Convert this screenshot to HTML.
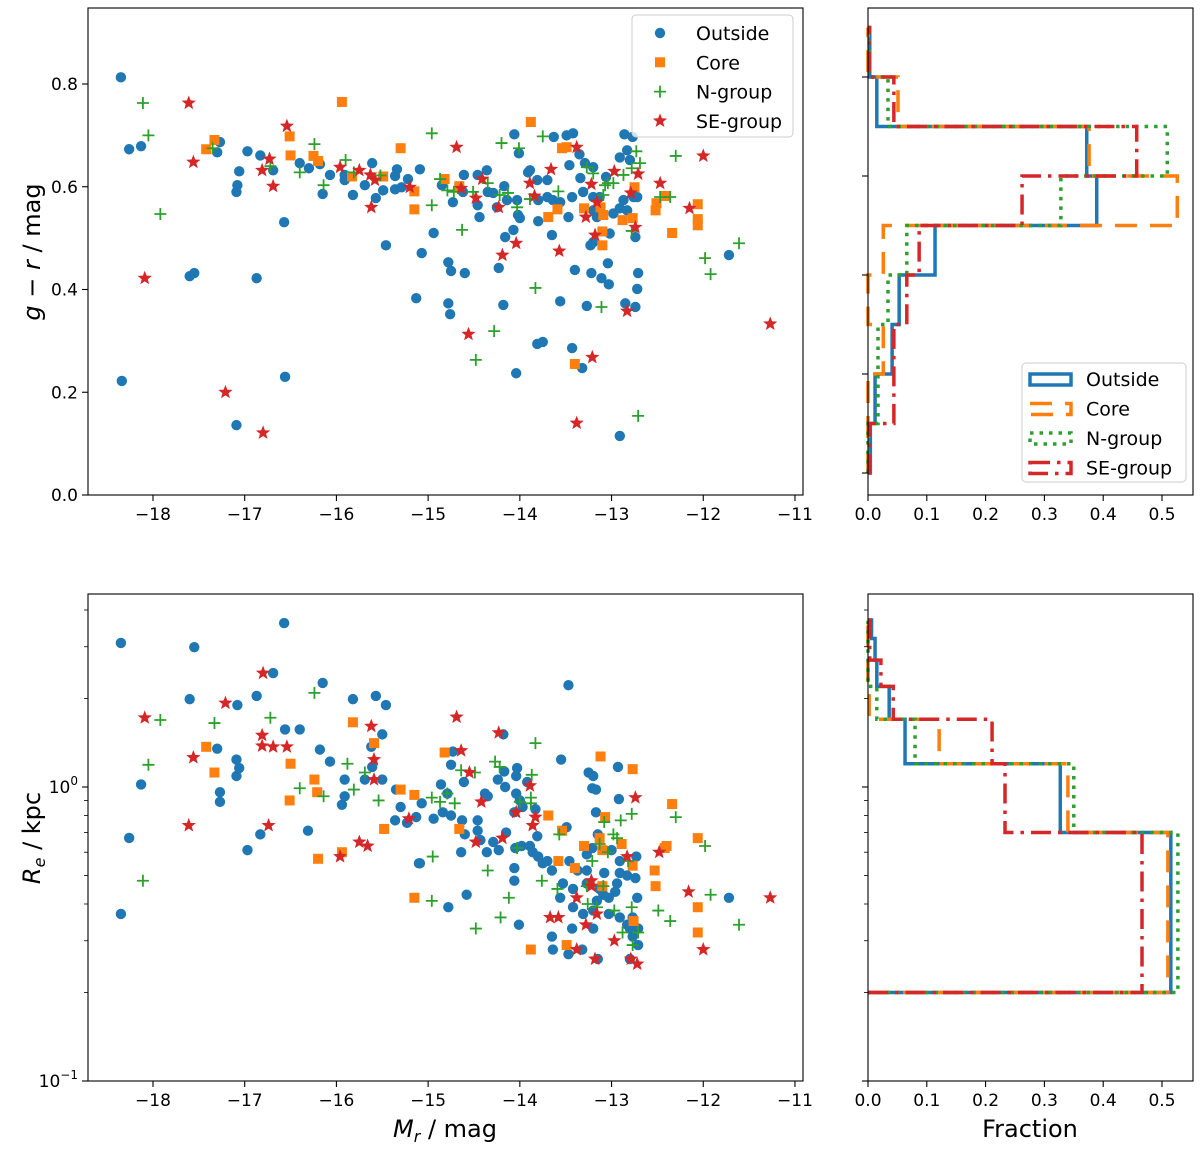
<!DOCTYPE html>
<html><head><meta charset="utf-8"><style>
body{margin:0;background:#fff}
svg text{font-family:"DejaVu Sans","Liberation Sans",sans-serif;fill:#000}
</style></head><body>
<svg id="fig" xmlns="http://www.w3.org/2000/svg" width="1200" height="1147" viewBox="0 0 1200 1147">
<rect width="1200" height="1147" fill="#fff"/>
<g id="marks"></g>
<g id="axes"></g>
</svg>
<script>
// ---------- data: top panel (M_r, g-r) ----------
const outsideTop=[[-18.35,0.813],[-18.26,0.673],[-18.13,0.679],[-17.27,0.687],[-17.30,0.667],[-16.97,0.669],[-16.83,0.661],[-16.69,0.632],[-17.06,0.630],[-17.08,0.603],[-17.09,0.590],[-16.40,0.646],[-16.30,0.636],[-16.18,0.644],[-16.07,0.623],[-16.15,0.586],[-15.91,0.623],[-15.91,0.613],[-15.82,0.584],[-15.69,0.603],[-15.61,0.646],[-15.57,0.578],[-15.49,0.593],[-15.36,0.595],[-15.29,0.599],[-15.34,0.634],[-15.36,0.621],[-15.22,0.615],[-16.57,0.531],[-15.46,0.486],[-17.60,0.426],[-17.55,0.432],[-16.87,0.422],[-15.13,0.383],[-18.34,0.222],[-16.56,0.230],[-17.09,0.136],
[-14.06,0.702],[-13.63,0.697],[-13.49,0.700],[-13.42,0.704],[-14.01,0.665],[-12.86,0.702],[-12.77,0.697],[-15.09,0.634],[-14.61,0.623],[-14.46,0.623],[-14.36,0.632],[-14.85,0.603],[-14.62,0.590],[-14.73,0.570],[-14.46,0.564],[-14.35,0.590],[-14.29,0.588],[-14.17,0.601],[-14.25,0.560],[-14.14,0.574],[-14.03,0.574],[-14.02,0.545],[-14.00,0.539],[-13.91,0.628],[-13.89,0.632],[-13.81,0.613],[-13.80,0.574],[-13.80,0.533],[-13.70,0.613],[-13.70,0.580],[-13.64,0.574],[-13.56,0.570],[-13.43,0.580],[-13.46,0.642],[-13.35,0.663],[-13.29,0.646],[-13.20,0.638],[-13.34,0.617],[-13.31,0.590],[-13.20,0.580],[-13.47,0.541],[-13.20,0.554],[-13.16,0.541],[-13.13,0.580],[-13.06,0.619],[-12.98,0.548],[-12.91,0.558],[-12.83,0.554],[-12.87,0.574],[-12.76,0.580],[-12.72,0.580],[-12.91,0.657],[-12.83,0.671],[-12.80,0.652],[-12.74,0.502],[-13.02,0.509],[-13.65,0.506],[-13.23,0.486],[-13.20,0.492],[-14.07,0.516],[-14.16,0.502],[-13.04,0.451],[-12.71,0.432],[-13.40,0.438],[-13.22,0.432],[-13.11,0.422],[-13.03,0.410],[-12.72,0.401],[-14.78,0.453],[-14.75,0.436],[-14.60,0.432],[-14.23,0.442],[-15.07,0.471],[-14.94,0.510],[-14.78,0.373],[-14.76,0.352],[-14.18,0.370],[-13.56,0.377],[-13.27,0.368],[-12.85,0.373],[-12.74,0.366],[-13.81,0.294],[-13.75,0.298],[-13.43,0.286],[-13.32,0.247],[-14.04,0.237],[-12.91,0.115],[-11.72,0.467],[-14.44,0.541]];
const coreTop=[[-15.94,0.765],[-17.33,0.691],[-17.42,0.673],[-16.51,0.698],[-16.50,0.661],[-16.25,0.660],[-16.20,0.650],[-15.30,0.675],[-15.83,0.620],[-15.49,0.620],[-15.15,0.591],[-15.15,0.556],
[-13.88,0.726],[-13.54,0.675],[-13.49,0.677],[-14.82,0.615],[-14.66,0.601],[-13.69,0.541],[-13.59,0.556],[-13.30,0.558],[-13.12,0.560],[-13.09,0.545],[-13.10,0.513],[-13.10,0.486],[-12.88,0.535],[-12.77,0.539],[-12.75,0.599],[-12.52,0.554],[-12.51,0.568],[-12.41,0.582],[-12.06,0.566],[-12.06,0.537],[-12.06,0.525],[-12.34,0.510],[-13.40,0.255]];
const ngroupTop=[[-18.11,0.763],[-18.05,0.700],[-17.92,0.547],[-17.35,0.675],[-16.24,0.683],[-16.40,0.628],[-16.72,0.640],[-16.14,0.603],[-15.90,0.652],[-15.81,0.628],[-15.52,0.622],
[-14.96,0.704],[-14.20,0.685],[-14.01,0.675],[-13.75,0.698],[-14.87,0.615],[-14.79,0.593],[-14.72,0.590],[-14.96,0.564],[-14.51,0.590],[-14.35,0.607],[-14.22,0.584],[-14.13,0.588],[-14.03,0.560],[-13.89,0.576],[-13.58,0.591],[-13.27,0.638],[-13.20,0.626],[-13.07,0.603],[-13.04,0.607],[-12.98,0.607],[-12.87,0.623],[-12.78,0.636],[-12.73,0.669],[-12.69,0.646],[-13.09,0.584],[-12.78,0.514],[-12.30,0.660],[-12.47,0.580],[-12.36,0.580],[-14.63,0.516],[-13.83,0.403],[-13.11,0.366],[-14.28,0.319],[-14.48,0.263],[-12.71,0.154],[-11.98,0.461],[-11.92,0.430],[-11.61,0.490]];
const segroupTop=[[-17.61,0.763],[-17.56,0.648],[-16.54,0.718],[-16.73,0.654],[-16.81,0.632],[-16.69,0.601],[-18.09,0.422],[-17.21,0.200],[-16.80,0.121],[-15.96,0.638],[-15.75,0.632],[-15.63,0.623],[-15.58,0.613],[-15.62,0.560],[-15.20,0.599],
[-14.69,0.677],[-14.41,0.615],[-14.64,0.597],[-14.48,0.578],[-14.23,0.560],[-13.89,0.607],[-13.84,0.582],[-13.66,0.634],[-13.38,0.677],[-13.22,0.605],[-13.16,0.570],[-13.28,0.541],[-13.18,0.506],[-12.97,0.630],[-12.79,0.588],[-12.71,0.625],[-12.74,0.521],[-12.47,0.607],[-12.00,0.660],[-12.15,0.558],[-14.04,0.490],[-14.19,0.467],[-13.57,0.475],[-14.56,0.313],[-13.21,0.268],[-12.83,0.358],[-13.38,0.140],[-11.27,0.333]];
// ---------- data: bottom panel (M_r, R_e kpc) ----------
const outsideBot=[[-18.35,3.09],[-17.55,2.99],[-16.57,3.61],[-16.69,2.44],[-17.60,1.99],[-16.87,2.04],[-17.08,1.90],[-16.15,2.26],[-15.82,1.99],[-15.57,2.04],[-15.46,1.90],[-16.56,1.57],[-16.40,1.57],[-17.30,1.35],[-17.09,1.24],[-17.06,1.16],[-17.09,1.09],[-17.27,0.96],[-17.27,0.89],[-18.13,1.02],[-18.26,0.671],[-18.35,0.37],[-16.18,1.34],[-16.07,1.22],[-15.50,1.51],[-15.62,1.37],[-15.61,1.17],[-15.91,1.06],[-15.69,1.06],[-15.50,1.06],[-15.91,0.93],[-15.94,0.87],[-15.35,0.98],[-15.30,0.855],[-15.36,0.77],[-15.23,0.755],[-15.13,0.79],[-16.31,0.71],[-16.83,0.69],[-16.97,0.61],[-15.10,0.55],
[-13.47,2.22],[-14.18,1.51],[-14.73,1.32],[-14.75,1.19],[-14.61,1.04],[-14.86,1.02],[-14.79,0.95],[-15.07,0.88],[-14.84,0.82],[-14.75,0.80],[-14.94,0.78],[-15.09,0.55],[-14.63,0.77],[-14.46,0.77],[-14.46,0.71],[-14.60,0.69],[-14.43,0.66],[-14.64,0.60],[-14.58,0.43],[-14.78,0.39],[-14.38,0.95],[-14.35,0.93],[-14.24,1.06],[-14.16,1.0],[-14.17,1.13],[-14.03,1.16],[-14.04,1.09],[-14.04,0.95],[-14.00,0.90],[-13.97,0.855],[-14.06,0.82],[-13.92,1.04],[-13.83,0.84],[-13.81,0.68],[-14.15,0.70],[-14.29,0.65],[-14.36,0.60],[-14.23,0.61],[-14.05,0.62],[-13.98,0.63],[-13.89,0.63],[-13.86,0.60],[-13.80,0.58],[-13.70,0.56],[-13.75,0.55],[-13.65,0.52],[-14.06,0.53],[-14.06,0.48],[-13.55,1.24],[-13.25,1.12],[-13.20,1.09],[-13.21,0.99],[-13.17,0.98],[-13.17,0.82],[-12.93,1.17],[-12.92,0.91],[-13.49,0.73],[-13.15,0.69],[-13.21,0.62],[-13.27,0.59],[-13.46,0.56],[-13.37,0.52],[-13.27,0.52],[-13.08,0.51],[-12.94,0.47],[-12.91,0.51],[-12.83,0.50],[-12.74,0.49],[-12.91,0.56],[-13.00,0.61],[-12.73,0.58],[-13.53,0.47],[-13.42,0.45],[-13.56,0.42],[-13.27,0.47],[-13.13,0.45],[-13.09,0.43],[-13.03,0.42],[-13.16,0.41],[-12.96,0.44],[-12.72,0.42],[-13.42,0.39],[-13.31,0.37],[-13.20,0.38],[-13.03,0.37],[-12.91,0.36],[-12.83,0.34],[-12.77,0.36],[-13.43,0.33],[-13.20,0.33],[-12.80,0.33],[-12.71,0.33],[-12.77,0.31],[-12.71,0.29],[-14.01,0.34],[-13.65,0.31],[-13.64,0.28],[-13.47,0.27],[-13.32,0.28],[-13.15,0.26],[-12.80,0.26],[-11.72,0.42]];
const coreBot=[[-15.82,1.66],[-17.42,1.37],[-17.33,1.12],[-16.50,1.20],[-16.24,1.06],[-16.21,0.96],[-16.51,0.90],[-15.59,1.41],[-15.30,0.98],[-15.15,0.94],[-15.48,0.72],[-15.94,0.60],[-16.20,0.57],[-15.15,0.42],
[-14.82,1.31],[-14.66,0.72],[-13.69,0.80],[-13.54,0.71],[-13.12,1.27],[-12.77,1.15],[-13.07,0.79],[-13.13,0.67],[-13.10,0.61],[-13.30,0.63],[-12.89,0.64],[-13.58,0.56],[-13.40,0.53],[-12.77,0.54],[-13.10,0.46],[-12.76,0.35],[-12.34,0.875],[-12.42,0.62],[-12.40,0.63],[-12.06,0.67],[-12.53,0.52],[-12.52,0.46],[-12.06,0.39],[-12.06,0.32],[-13.49,0.29],[-13.88,0.28]];
const ngroupBot=[[-17.92,1.69],[-17.33,1.65],[-16.72,1.72],[-16.24,2.09],[-18.05,1.19],[-18.11,0.48],[-16.40,0.99],[-16.14,0.93],[-15.88,1.20],[-15.81,0.98],[-15.69,1.12],[-15.54,0.90],
[-13.83,1.41],[-14.27,1.22],[-14.22,1.17],[-14.64,1.14],[-14.49,1.12],[-14.79,0.95],[-14.96,0.92],[-14.87,0.89],[-14.71,0.88],[-13.87,1.10],[-13.88,0.92],[-14.00,0.89],[-13.88,0.88],[-13.57,0.69],[-14.03,0.62],[-14.95,0.58],[-14.35,0.52],[-13.76,0.48],[-13.59,0.45],[-14.12,0.42],[-14.96,0.41],[-14.21,0.36],[-14.48,0.33],[-13.08,0.76],[-12.90,0.77],[-12.78,0.81],[-12.98,0.69],[-12.94,0.67],[-13.13,0.64],[-13.04,0.60],[-13.21,0.56],[-12.82,0.56],[-13.27,0.46],[-13.09,0.46],[-13.26,0.40],[-13.16,0.39],[-12.97,0.38],[-12.78,0.39],[-12.88,0.32],[-12.71,0.32],[-12.77,0.29],[-12.30,0.79],[-11.98,0.63],[-12.49,0.38],[-12.36,0.35],[-11.92,0.43],[-11.61,0.34]];
const segroupBot=[[-16.80,2.44],[-17.21,1.93],[-18.09,1.72],[-16.81,1.50],[-16.81,1.38],[-16.69,1.37],[-16.54,1.37],[-17.56,1.26],[-17.61,0.74],[-16.74,0.74],[-15.62,1.61],[-15.59,1.24],[-15.59,1.06],[-15.21,0.78],[-15.75,0.65],[-15.66,0.63],[-15.96,0.58],
[-14.69,1.73],[-14.23,1.53],[-14.64,1.33],[-14.55,1.12],[-14.42,0.89],[-13.89,1.01],[-14.04,0.82],[-13.83,0.79],[-13.86,0.74],[-14.19,0.67],[-14.48,0.65],[-12.74,0.92],[-12.83,0.58],[-12.48,0.60],[-13.22,0.48],[-13.22,0.46],[-13.38,0.42],[-13.67,0.36],[-13.58,0.36],[-13.28,0.34],[-13.16,0.37],[-12.97,0.30],[-13.38,0.28],[-13.18,0.26],[-12.79,0.26],[-12.72,0.25],[-12.16,0.44],[-12.00,0.28],[-11.27,0.42]];
// ---------- histograms ----------
const grEdges=[0,0.1,0.2,0.3,0.4,0.5,0.6,0.7,0.8,0.9];
const grOutside=[0.004,0.012,0.041,0.053,0.114,0.389,0.372,0.015,0.003];
const grCore=[0.0,0.0,0.026,0.0,0.026,0.526,0.376,0.051,0.0];
const grNgroup=[0.0,0.017,0.017,0.034,0.066,0.328,0.509,0.034,0.003];
const grSEgroup=[0.002,0.044,0.044,0.066,0.087,0.262,0.457,0.044,0.002];
const reEdges=[0.2,0.7,1.2,1.7,2.2,2.7,3.2,3.7];
const reOutside=[0.515,0.327,0.063,0.036,0.015,0.012,0.006];
const reCore=[0.51,0.340,0.121,0.002,0.0,0.0,0.0];
const reNgroup=[0.527,0.350,0.080,0.015,0.0,0.0,0.0];
const reSEgroup=[0.466,0.233,0.211,0.043,0.022,0.003,0.003];
const xTicks=[-18,-17,-16,-15,-14,-13,-12,-11];
const grTicks=[0.0,0.2,0.4,0.6,0.8];
const fracTicks=[0.0,0.1,0.2,0.3,0.4,0.5];

const C={o:'#1f77b4',c:'#ff7f0e',n:'#2ca02c',s:'#d62728'};
const NS='http://www.w3.org/2000/svg';
const marks=document.getElementById('marks'), axes=document.getElementById('axes');
const xM=m=>153+(m+18)*91.71;
const yGR=v=>495-v*513.75;
const yRe=r=>787-Math.log10(r)*294;
const xF=f=>868+f*588;
const yH=v=>473-v*495;
function el(tag,attrs,parent){const e=document.createElementNS(NS,tag);for(const k in attrs)e.setAttribute(k,attrs[k]);(parent||marks).appendChild(e);return e;}
function starPts(cx,cy,R,r){let p=[];for(let i=0;i<10;i++){const a=-Math.PI/2+i*Math.PI/5,rr=i%2?r:R;p.push((cx+rr*Math.cos(a)).toFixed(1)+','+(cy+rr*Math.sin(a)).toFixed(1));}return p.join(' ');}
function marker(kind,x,y,parent){
  let e;
  if(kind==='o')e=el('circle',{cx:x,cy:y,r:5.2,fill:C.o},parent);
  else if(kind==='c')e=el('rect',{x:x-5,y:y-5,width:10,height:10,fill:C.c},parent);
  else if(kind==='n')e=el('path',{d:`M${x-6} ${y}H${x+6}M${x} ${y-6}V${y+6}`,stroke:C.n,'stroke-width':1.8,fill:'none'},parent);
  else e=el('polygon',{points:starPts(x,y,7.5,3.2),fill:C.s},parent);
  return e;
}
const clipT=el('clipPath',{id:'ct'});el('rect',{x:88,y:8,width:715,height:487},clipT);
const clipB=el('clipPath',{id:'cb'});el('rect',{x:88,y:594,width:715,height:487},clipB);
const gT=el('g',{'clip-path':'url(#ct)'});const gB=el('g',{'clip-path':'url(#cb)'});
const sets=[['o',outsideTop,outsideBot,'outside'],['c',coreTop,coreBot,'core'],['n',ngroupTop,ngroupBot,'n-group'],['s',segroupTop,segroupBot,'se-group']];
sets.forEach(([k,t,b,nm])=>{
  t.forEach(d=>{const m=marker(k,xM(d[0]),yGR(d[1]),gT);
    
    });
  b.forEach(d=>{const m=marker(k,xM(d[0]),yRe(d[1]),gB);
    
    });
});
const styles={o:{dash:'none'},c:{dash:'22,13'},n:{dash:'3.5,6'},s:{dash:'20,7,3.5,7'}};
function hist(edges,vals,ys,k,nm){
  let d=`M${xF(0)} ${ys(edges[0])}`;
  for(let i=0;i<vals.length;i++){d+=`L${xF(vals[i])} ${ys(edges[i])}L${xF(vals[i])} ${ys(edges[i+1])}`;}
  d+=`L${xF(0)} ${ys(edges[edges.length-1])}`;
  const p=el('path',{d:d,fill:'none',stroke:C[k],'stroke-width':3.5,'stroke-dasharray':styles[k].dash});
  
  
}
hist(grEdges,grOutside,yH,'o','hist-color-outside');
hist(grEdges,grCore,yH,'c','hist-color-core');
hist(grEdges,grNgroup,yH,'n','hist-color-n-group');
hist(grEdges,grSEgroup,yH,'s','hist-color-se-group');
hist(reEdges,reOutside,yRe,'o','hist-size-outside');
hist(reEdges,reCore,yRe,'c','hist-size-core');
hist(reEdges,reNgroup,yRe,'n','hist-size-n-group');
hist(reEdges,reSEgroup,yRe,'s','hist-size-se-group');

function frame(x,y,w,h,nm){const r=el('rect',{x:x,y:y,width:w,height:h,fill:'none',stroke:'#000','stroke-width':1.1},axes);
  
  }
frame(88,8,715,487,'color-scatter-axes');frame(88,594,715,487,'size-scatter-axes');
frame(868,8,325,487,'color-hist-axes');frame(868,594,325,487,'size-hist-axes');
function txt(s,x,y,size,anchor,nm,extra){const t=el('text',Object.assign({x:x,y:y,'font-size':size,'text-anchor':anchor||'middle'},extra||{}),axes);t.innerHTML=s;
  
  return t;}
function tick(x1,y1,x2,y2,w){el('line',{x1:x1,y1:y1,x2:x2,y2:y2,stroke:'#000','stroke-width':w||1.1},axes);}
[495,1081].forEach(yb=>{xTicks.forEach(v=>{const x=xM(v);tick(x,yb,x,yb+6);txt('\u2212'+Math.abs(v),x,yb+25,17,'middle','x-tick-label');});
  fracTicks.forEach(v=>{const x=xF(v);tick(x,yb,x,yb+6);txt(v.toFixed(1),x,yb+25,17,'middle','fraction-tick-label');});});
grTicks.forEach(v=>{const y=yGR(v);tick(88,y,82,y);txt(v.toFixed(1),78,y+6,17,'end','y-tick-label');});
grTicks.forEach(v=>{const y=yH(v);tick(868,y,862,y);});
[0.2,0.3,0.4,0.5,0.6,0.7,0.8,0.9,2,3,4].forEach(v=>{const y=yRe(v);tick(88,y,84,y,0.8);tick(868,y,864,y,0.8);});
[0.1,1].forEach(v=>{const y=yRe(v);tick(88,y,82,y);tick(868,y,862,y);});
txt('10<tspan dy="-8" font-size="12">0</tspan>',78,yRe(1)+6,17,'end','y-tick-label-1');
txt('10<tspan dy="-8" font-size="12">\u22121</tspan>',78,yRe(0.1)+6,17,'end','y-tick-label-0.1');
txt('<tspan font-style="italic">g</tspan> \u2212 <tspan font-style="italic">r</tspan> / mag',0,0,24,'middle','y-axis-title-color',{transform:'translate(40,252) rotate(-90)'});
txt('<tspan font-style="italic">R</tspan><tspan font-style="italic" font-size="16" dy="5">e</tspan><tspan dy="-5"> / kpc</tspan>',0,0,24,'middle','y-axis-title-size',{transform:'translate(40,838) rotate(-90)'});
txt('<tspan font-style="italic">M</tspan><tspan font-style="italic" font-size="16" dy="5">r</tspan><tspan dy="-5"> / mag</tspan>',445,1137,24,'middle','x-axis-title');
txt('Fraction',1030,1137,24,'middle','x-axis-title-fraction');
const lg=el('rect',{x:632,y:15,width:161,height:122,rx:4,fill:'#fff','fill-opacity':0.8,stroke:'#ccc'},axes);


const lgNames=['Outside','Core','N-group','SE-group'];const lgK=['o','c','n','s'];
lgNames.forEach((n,i)=>{const y=33+i*29.3;marker(lgK[i],660,y,axes);txt(n,696,y+7,19,'start','legend-entry-'+lgK[i]);});
const lh=el('rect',{x:1022,y:363,width:164,height:119,rx:4,fill:'#fff','fill-opacity':0.8,stroke:'#ccc'},axes);


lgNames.forEach((n,i)=>{const y=379+i*29.5;
  el('rect',{x:1030,y:y-5,width:41,height:11,fill:'none',stroke:C[lgK[i]],'stroke-width':3.5,'stroke-dasharray':styles[lgK[i]].dash},axes);
  txt(n,1086,y+7,19,'start','hist-legend-entry-'+lgK[i]);});
</script>
</body></html>
